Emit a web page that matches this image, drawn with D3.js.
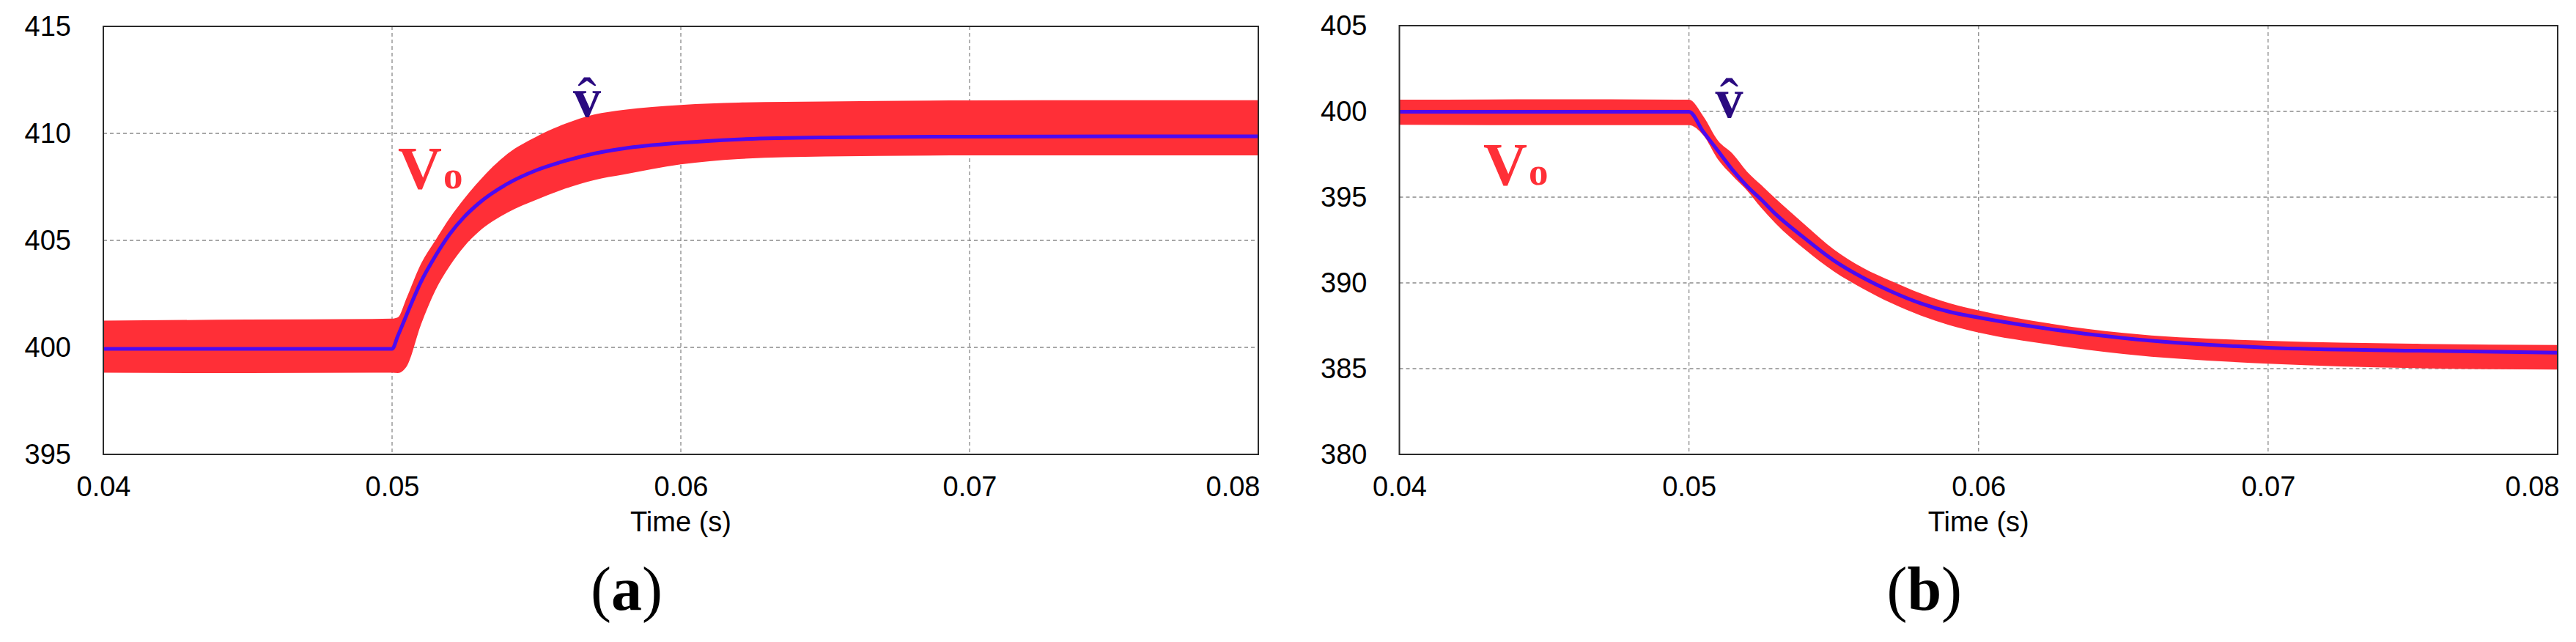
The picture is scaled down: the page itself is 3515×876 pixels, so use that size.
<!DOCTYPE html>
<html>
<head>
<meta charset="utf-8">
<script src="https://cdn.jsdelivr.net/npm/d3@7"></script>
<style>
  html, body { margin: 0; padding: 0; background: #fff; }
  svg { display: block; }
  .axis text { font-family: "Liberation Sans", Arial, sans-serif; font-size: 38px; fill: #000; }
  .axis-title { font-family: "Liberation Sans", Arial, sans-serif; font-size: 38px; fill: #000; }
  .caption { font-family: "Liberation Serif", "Times New Roman", serif; font-size: 84px; font-weight: bold; fill: #000; }
  .series-label { font-family: "Liberation Serif", "Times New Roman", serif; font-weight: bold; }
</style>
</head>
<body>
<div id="chart"></div>
<script>
// Ticks
const xTicks = [0.04, 0.05, 0.06, 0.07, 0.08];
const yTicksA = [395, 400, 405, 410, 415];
const yTicksB = [380, 385, 390, 395, 400, 405];

// (a) step up: Vo ripple band (upper / lower envelope) and estimate v-hat
const timeA = [0.04, 0.045, 0.05, 0.0502, 0.0505, 0.051, 0.0515, 0.052, 0.0525, 0.053, 0.054, 0.055,
  0.056, 0.057, 0.058, 0.06, 0.062, 0.065, 0.07, 0.075, 0.08];
const voUpperA = [401.25, 401.3, 401.34, 401.4, 402.3, 403.9, 405.0, 406.05, 406.95, 407.75, 409.05, 409.85,
  410.45, 410.88, 411.1, 411.33, 411.44, 411.49, 411.54, 411.55, 411.55];
const voLowerA = [398.82, 398.8, 398.82, 398.8, 399.1, 401.06, 402.66, 403.81, 404.72, 405.4, 406.3, 406.9,
  407.42, 407.82, 408.07, 408.55, 408.8, 408.92, 408.97, 408.97, 408.97];
const vHatA = [399.93, 399.93, 399.93, 400.54, 401.51, 403.06, 404.27, 405.3, 406.1, 406.73, 407.65, 408.28,
  408.72, 409.06, 409.29, 409.56, 409.72, 409.81, 409.85, 409.86, 409.86];

// (b) step down
const timeB = [0.04, 0.045, 0.05, 0.0505, 0.051, 0.0515, 0.052, 0.0525, 0.053, 0.054, 0.055, 0.056,
  0.057, 0.058, 0.059, 0.06, 0.0625, 0.065, 0.07, 0.075, 0.08];
const voUpperB = [400.68, 400.7, 400.68, 399.7, 398.3, 397.54, 396.5, 395.7, 394.9, 393.4, 391.96, 390.89,
  390.1, 389.39, 388.81, 388.4, 387.62, 387.08, 386.62, 386.45, 386.38];
const voLowerB = [399.22, 399.2, 399.2, 398.6, 397.2, 396.25, 395.4, 394.37, 393.45, 391.95, 390.67, 389.67,
  388.81, 388.1, 387.53, 387.1, 386.39, 385.85, 385.29, 385.03, 384.95];
const vHatB = [399.98, 399.98, 399.98, 398.8, 397.7, 396.6, 395.65, 394.85, 394.0, 392.6, 391.31, 390.31,
  389.49, 388.81, 388.31, 387.98, 387.3, 386.78, 386.22, 386.05, 385.93];

const W = 3515, H = 876;
const RED = '#ff2f37', BLUE = '#4b0af2', NAVY = '#2a0a80';

const svg = d3.select('#chart').append('svg')
  .attr('width', W)
  .attr('height', H)
  .style('background', '#fff');

const panels = [
  {
    left: 141, right: 1717, top: 36, bottom: 620,
    yDomain: [395, 415], yTicks: yTicksA,
    time: timeA, upper: voUpperA, lower: voLowerA, vHat: vHatA,
    caption: 'a',
    voPos: [543, 257], hatPos: [801, 159]
  },
  {
    left: 1909.5, right: 3490, top: 35, bottom: 620,
    yDomain: [380, 405], yTicks: yTicksB,
    time: timeB, upper: voUpperB, lower: voLowerB, vHat: vHatB,
    caption: 'b',
    voPos: [2024, 252], hatPos: [2359.5, 160]
  }
];

panels.forEach(p => drawPanel(p));

function drawPanel(p) {
  const x = d3.scaleLinear().domain([0.04, 0.08]).range([p.left, p.right]);
  const y = d3.scaleLinear().domain(p.yDomain).range([p.bottom, p.top]);
  const g = svg.append('g');

  // Grid lines (interior ticks only)
  g.selectAll('.vgrid')
    .data(xTicks.slice(1, -1))
    .enter().append('line')
    .attr('class', 'vgrid')
    .attr('x1', d => x(d)).attr('x2', d => x(d))
    .attr('y1', p.top).attr('y2', p.bottom)
    .attr('stroke', '#8a8a8a')
    .attr('stroke-width', 1.3)
    .attr('stroke-dasharray', '5 4');

  g.selectAll('.hgrid')
    .data(p.yTicks.slice(1, -1))
    .enter().append('line')
    .attr('class', 'hgrid')
    .attr('x1', p.left).attr('x2', p.right)
    .attr('y1', d => y(d)).attr('y2', d => y(d))
    .attr('stroke', '#8a8a8a')
    .attr('stroke-width', 1.3)
    .attr('stroke-dasharray', '5 4');

  const pts = p.time.map((t, i) => ({ t: t, hi: p.upper[i], lo: p.lower[i], v: p.vHat[i] }));

  // Vo ripple band
  const area = d3.area()
    .curve(d3.curveMonotoneX)
    .x(d => x(d.t))
    .y0(d => y(d.lo))
    .y1(d => y(d.hi));

  g.append('path')
    .datum(pts)
    .attr('d', area)
    .attr('fill', RED);

  // Estimated voltage
  const line = d3.line()
    .curve(d3.curveMonotoneX)
    .x(d => x(d.t))
    .y(d => y(d.v));

  g.append('path')
    .datum(pts)
    .attr('d', line)
    .attr('fill', 'none')
    .attr('stroke', BLUE)
    .attr('stroke-width', 5);

  // Frame
  g.append('rect')
    .attr('x', p.left).attr('y', p.top)
    .attr('width', p.right - p.left).attr('height', p.bottom - p.top)
    .attr('fill', 'none')
    .attr('stroke', '#2a2a2a')
    .attr('stroke-width', 2);

  // Axes
  const xAxis = g.append('g')
    .attr('class', 'axis')
    .attr('transform', 'translate(0,' + p.bottom + ')')
    .call(d3.axisBottom(x).tickValues(xTicks).tickSize(0).tickPadding(30).tickFormat(d3.format('.2f')));
  xAxis.select('.domain').remove();
  xAxis.selectAll('.tick text')
    .attr('text-anchor', (d, i) => i === xTicks.length - 1 ? 'end' : 'middle')
    .attr('dx', (d, i) => i === xTicks.length - 1 ? '2' : '0');

  const yAxis = g.append('g')
    .attr('class', 'axis')
    .attr('transform', 'translate(' + p.left + ',0)')
    .call(d3.axisLeft(y).tickValues(p.yTicks).tickSize(0).tickPadding(44).tickFormat(d3.format('d')));
  yAxis.select('.domain').remove();

  const cx = (p.left + p.right) / 2;
  g.append('text')
    .attr('class', 'axis-title')
    .attr('x', cx).attr('y', 725)
    .attr('text-anchor', 'middle')
    .text('Time (s)');

  // Caption "(a)" / "(b)"
  const cap = g.append('text')
    .attr('class', 'caption')
    .attr('x', cx - 74).attr('y', 832)
    .attr('text-anchor', 'middle');
  cap.append('tspan').style('font-weight', 'normal').text('(');
  cap.append('tspan').text(p.caption);
  cap.append('tspan').style('font-weight', 'normal').text(')');

  // Series labels
  const vo = g.append('text')
    .attr('class', 'series-label')
    .attr('x', p.voPos[0]).attr('y', p.voPos[1])
    .attr('fill', RED);
  vo.append('tspan').style('font-size', '83px').text('V');
  vo.append('tspan').style('font-size', '53px').attr('dx', 2).text('o');

  g.append('text')
    .attr('class', 'series-label')
    .attr('x', p.hatPos[0]).attr('y', p.hatPos[1])
    .attr('text-anchor', 'middle')
    .attr('fill', NAVY)
    .style('font-size', '76px')
    .text('v');
  g.append('text')
    .attr('class', 'series-label')
    .attr('x', p.hatPos[0]).attr('y', p.hatPos[1])
    .attr('text-anchor', 'middle')
    .attr('fill', NAVY)
    .style('font-size', '76px')
    .style('font-weight', 'normal')
    .text('\u02C6');
}
</script>
</body>
</html>
